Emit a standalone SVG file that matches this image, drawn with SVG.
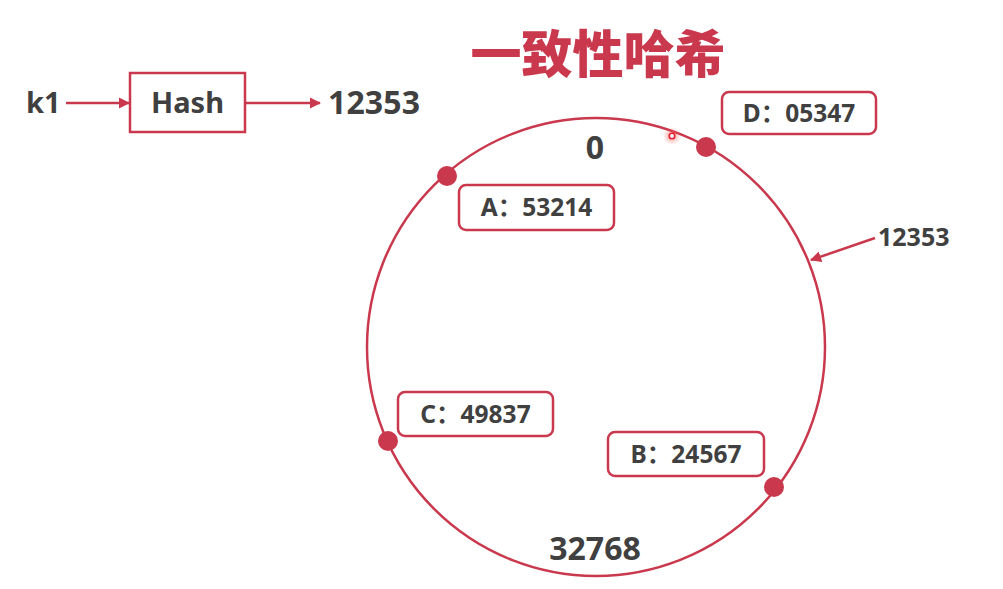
<svg xmlns="http://www.w3.org/2000/svg" width="1003" height="589" viewBox="0 0 1003 589">
<defs>
<style>
.t{font-family:"Noto Sans","Noto Sans CJK SC",sans-serif;font-weight:bold;fill:#404040}
.big{font-size:29px}
.num{font-size:32px}
.lbl{font-size:24.5px}
.box{fill:#fff;stroke:#c9384c;stroke-width:2.5}
.ln{stroke:#c9384c;stroke-width:2.5;fill:none}
.dot{fill:#c9384c}
</style>
<marker id="ah" viewBox="0 0 10 10" refX="9" refY="5" markerWidth="4.5" markerHeight="4.5" orient="auto" markerUnits="strokeWidth">
<path d="M0,0 L10,5 L0,10 z" fill="#c9384c"/>
</marker>
<radialGradient id="glow"><stop offset="0" stop-color="#ff5050" stop-opacity="0.6"/><stop offset="1" stop-color="#ff5050" stop-opacity="0"/></radialGradient>
</defs>
<rect width="1003" height="589" fill="#fff"/>
<text x="598" y="73" text-anchor="middle" style="font-family:'Noto Sans CJK SC',sans-serif;font-weight:900;font-size:51px;fill:#c9384c">一致性哈希</text>
<g id="ring"><circle cx="596" cy="347" r="229" class="ln"/></g>
<g id="connectors">
<line x1="66" y1="103" x2="129" y2="103" class="ln" marker-end="url(#ah)"/>
<line x1="246" y1="103" x2="320" y2="103" class="ln" marker-end="url(#ah)"/>
<line x1="875" y1="238" x2="811" y2="260" class="ln" marker-end="url(#ah)"/>
</g>
<g id="k1"><text x="26" y="113" class="t big">k1</text></g>
<g id="hash"><rect x="130" y="73" width="115" height="59" class="box"/><text x="187.5" y="113" text-anchor="middle" class="t big">Hash</text></g>
<g id="result"><text x="328" y="114" class="t num" textLength="92">12353</text></g>
<g id="zero"><text x="595" y="159" text-anchor="middle" class="t num">0</text></g>
<g id="bottom"><text x="595" y="560" text-anchor="middle" class="t num">32768</text></g>
<g id="key12353"><text x="878" y="246" class="t" style="font-size:25px">12353</text></g>
<g id="nodeD"><circle cx="706" cy="147" r="10" class="dot"/><rect x="722" y="92" width="154" height="42" rx="7" class="box"/><text x="799" y="122" text-anchor="middle" class="t lbl">D：05347</text></g>
<g id="nodeA"><circle cx="447" cy="176" r="10" class="dot"/><rect x="459" y="185" width="155" height="45" rx="7" class="box"/><text x="536.5" y="216" text-anchor="middle" class="t lbl">A：53214</text></g>
<g id="nodeC"><circle cx="388" cy="441" r="10" class="dot"/><rect x="398" y="392" width="155" height="44" rx="7" class="box"/><text x="475.5" y="423" text-anchor="middle" class="t lbl">C：49837</text></g>
<g id="nodeB"><circle cx="774" cy="487" r="10" class="dot"/><rect x="608" y="432" width="156" height="44" rx="7" class="box"/><text x="686" y="463" text-anchor="middle" class="t lbl">B：24567</text></g>
<g id="cursor"><circle cx="672" cy="136" r="9" fill="url(#glow)"/><circle cx="672" cy="136" r="2.8" fill="#fff" stroke="#e8202a" stroke-width="1.6"/></g>
</svg>
